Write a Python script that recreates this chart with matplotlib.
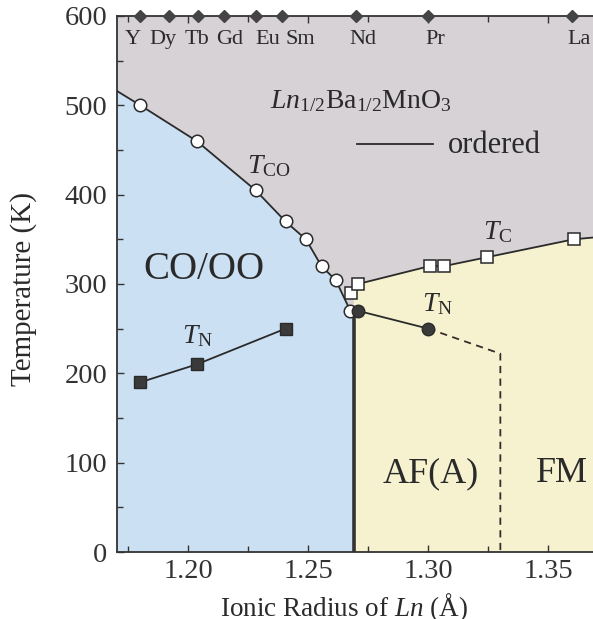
"""Phase diagram of Ln1/2Ba1/2MnO3 versus Ln ionic radius."""

import matplotlib

matplotlib.use("Agg")
import matplotlib.pyplot as plt
import numpy as np

plt.rcParams["font.family"] = ["Liberation Serif", "DejaVu Serif"]
plt.rcParams["mathtext.fontset"] = "custom"
plt.rcParams["mathtext.rm"] = "Liberation Serif"
plt.rcParams["mathtext.it"] = "Liberation Serif:italic"

# lanthanide markers along the top axis
ln_names = ["Y", "Dy", "Tb", "Gd", "Eu", "Sm", "Nd", "Pr", "La"]
ln_radius = [1.180, 1.192, 1.204, 1.215, 1.228, 1.239, 1.270, 1.300, 1.360]
# names are packed tightly, so they sit a little off their diamonds
ln_label_x = [1.1768, 1.1895, 1.2035, 1.2172, 1.2330, 1.2465, 1.2728, 1.3028, 1.3628]

# charge/orbital ordering temperature (open circles) and its boundary line
tco_r = [1.180, 1.2035, 1.228, 1.2405, 1.249, 1.2555, 1.2615, 1.2675]
tco_T = [500, 460, 405, 370, 350, 320, 304, 270]
tco_edge_r = [1.1703, 1.269]
tco_edge_T = [516, 262]

# Curie temperature (open squares)
tc_r = [1.2678, 1.2707, 1.3005, 1.3065, 1.3245, 1.3605]
tc_T = [290, 300, 320, 320, 330, 350]
tc_end_r, tc_end_T = 1.3686, 352

# Neel temperature, A-type AF (filled circles) and dashed AF/FM border
tn_af_r = [1.2707, 1.300]
tn_af_T = [270, 250]
af_fm_r = [1.300, 1.330, 1.330]
af_fm_T = [250, 222, 0]

# Neel temperature inside CO/OO (filled squares)
tn_co_r = [1.180, 1.2035, 1.2405]
tn_co_T = [190, 210, 250]

nd_border_r = 1.269
nd_border_T = 270

XMIN, XMAX = 1.1703, 1.3686
GRAY = "#d6d2d6"
BLUE = "#cce0f4"
YELLOW = "#f6f2d0"
INK = "#2a2a2a"

fig = plt.figure(figsize=(5.93, 6.19), dpi=100)
ax = fig.add_axes([0.1973, 0.1082, 1.0 - 0.1973, 0.9742 - 0.1082])
ax.set_facecolor(GRAY)
ax.set_xlim(XMIN, XMAX)
ax.set_ylim(0, 600)

# CO/OO region
co_line_r = [tco_edge_r[0]] + tco_r + [tco_edge_r[1]]
co_line_T = [tco_edge_T[0]] + tco_T + [tco_edge_T[1]]
ax.fill(
    [XMIN] + co_line_r + [nd_border_r],
    [0] + co_line_T + [0],
    color=BLUE, lw=0, zorder=1,
)

# metallic (AF(A)/FM) region
fm_r = [nd_border_r] + tc_r + [tc_end_r]
fm_T = [tc_T[0]] + tc_T + [tc_end_T]
ax.fill(
    [nd_border_r] + fm_r + [XMAX],
    [0] + fm_T + [0],
    color=YELLOW, lw=0, zorder=1,
)

ax.plot(co_line_r, co_line_T, color=INK, lw=1.3, zorder=3)
ax.plot(tc_r[1:] + [tc_end_r], tc_T[1:] + [tc_end_T], color=INK, lw=1.3, zorder=3)
ax.plot([nd_border_r, nd_border_r], [0, nd_border_T], color="#333333", lw=2.6, zorder=3)
ax.plot(tn_af_r, tn_af_T, color=INK, lw=1.3, zorder=3)
ax.plot(af_fm_r, af_fm_T, color="#3a2a2a", lw=1.3, ls=(0, (4, 3)), zorder=3)
ax.plot(tn_co_r, tn_co_T, color=INK, lw=1.3, zorder=3)

ax.plot(tco_r, tco_T, "o", ms=9, mfc="white", mec=INK, mew=1.1, zorder=4)
ax.plot(tc_r, tc_T, "s", ms=8.5, mfc="white", mec=INK, mew=1.1, zorder=4)
ax.plot(tn_af_r, tn_af_T, "o", ms=9, mfc="#3a3a3a", mec=INK, zorder=5)
ax.plot(tn_co_r, tn_co_T, "s", ms=8.5, mfc="#3a3a3a", mec=INK, zorder=4)

# top axis: diamonds for each Ln and their names
ax.plot(ln_radius, np.full(len(ln_radius), 600), "D", ms=6.5,
        color="#444444", clip_on=False, zorder=6)
for name, lx in zip(ln_names, ln_label_x):
    ax.text(lx, 574, name, ha="center", va="center",
            fontsize=16, color=INK, zorder=6)

# region and curve labels
ax.text(1.2720, 505, r"$\mathit{Ln}_{1/2}\mathrm{Ba}_{1/2}\mathrm{MnO}_3$",
        ha="center", va="center", fontsize=20, color=INK)
ax.plot([1.2703, 1.3020], [457, 457], color=INK, lw=1.3)
ax.text(1.3080, 455, "ordered", ha="left", va="center", fontsize=22, color=INK)
ax.text(1.2335, 432, r"$\mathit{T}_{\mathrm{CO}}$", ha="center", va="center",
        fontsize=20, color=INK)
ax.text(1.3290, 358, r"$\mathit{T}_{\mathrm{C}}$", ha="center", va="center",
        fontsize=20, color=INK)
ax.text(1.3040, 277, r"$\mathit{T}_{\mathrm{N}}$", ha="center", va="center",
        fontsize=20, color=INK)
ax.text(1.2040, 242, r"$\mathit{T}_{\mathrm{N}}$", ha="center", va="center",
        fontsize=20, color=INK)
ax.text(1.2067, 316, "CO/OO", ha="center", va="center", fontsize=28, color=INK)
ax.text(1.3012, 88, "AF(A)", ha="center", va="center", fontsize=26, color=INK)
ax.text(1.3555, 88, "FM", ha="center", va="center", fontsize=26, color=INK)

ax.set_xticks([1.20, 1.25, 1.30, 1.35])
ax.set_xticklabels(["1.20", "1.25", "1.30", "1.35"])
ax.set_xticks([1.175, 1.225, 1.275, 1.325], minor=True)
ax.set_yticks(range(0, 601, 100))
ax.set_yticks(range(50, 600, 100), minor=True)
ax.tick_params(which="both", direction="in", top=True, colors="#333333",
               labelsize=20.5, width=1.0)
ax.tick_params(which="major", length=5)
ax.tick_params(which="minor", length=4)
ax.tick_params(axis="x", pad=5)
ax.tick_params(axis="y", pad=7)

ax.set_xlabel(r"Ionic Radius of $\mathit{Ln}$ (Å)", fontsize=19.5, color=INK)
ax.xaxis.set_label_coords(0.477, -0.0728)
ax.set_ylabel("Temperature (K)", fontsize=21, color=INK)
ax.yaxis.set_label_coords(-0.168, 0.49)

for side in ("left", "bottom", "top"):
    ax.spines[side].set_color("#333333")
    ax.spines[side].set_linewidth(1.3)
ax.spines["right"].set_visible(False)

fig.savefig("out.png", dpi=100)
